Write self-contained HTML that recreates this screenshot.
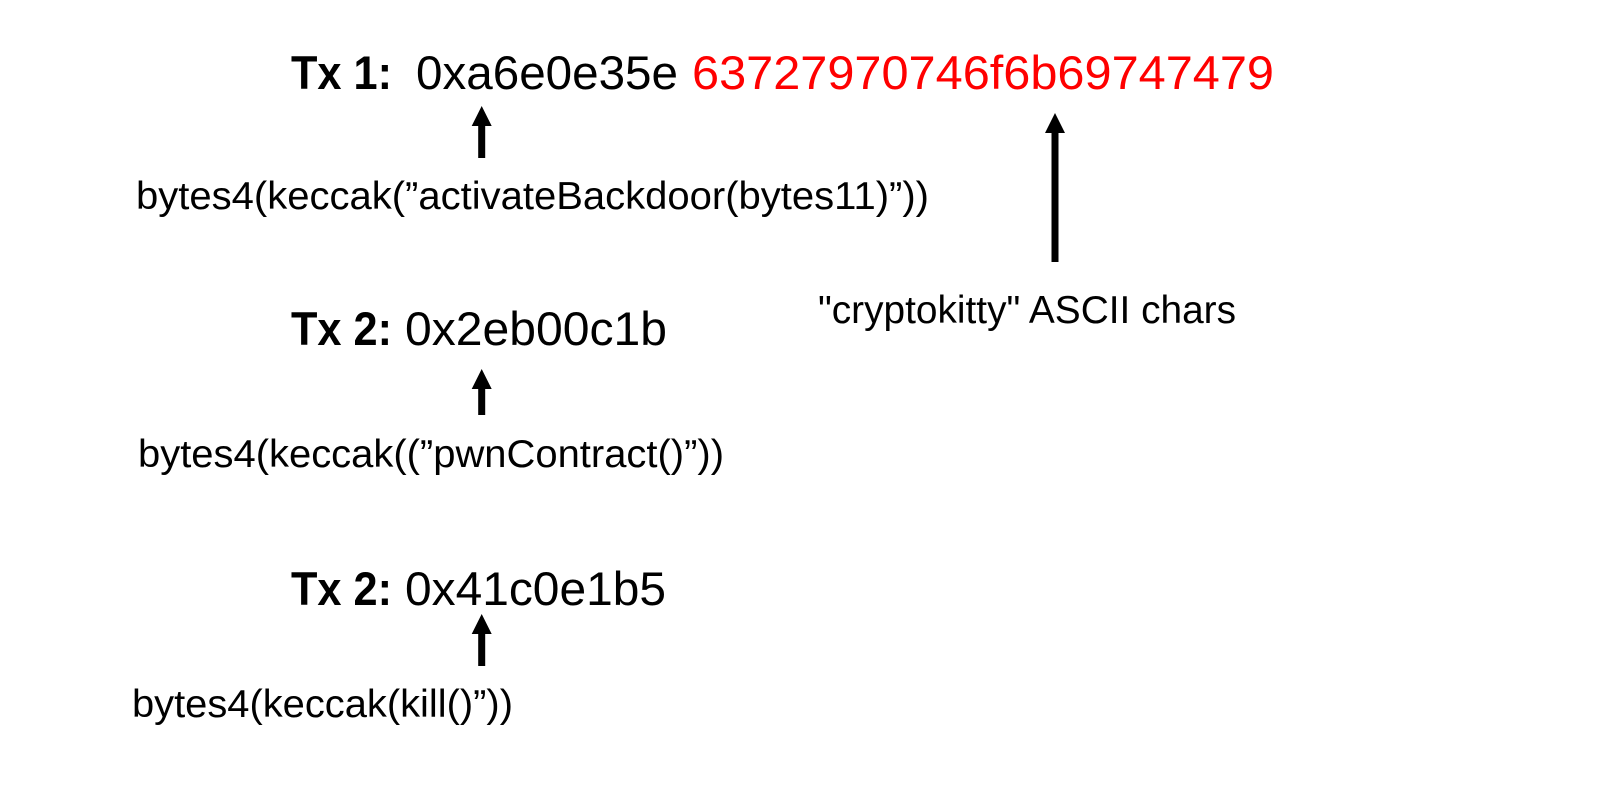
<!DOCTYPE html>
<html lang="en">
<head>
<meta charset="utf-8">
<style>
html,body{margin:0;padding:0;background:#fff;width:1600px;height:806px;overflow:hidden}
svg{display:block}
text{font-family:"Liberation Sans",sans-serif;fill:#000}
.b{font-size:47px;font-weight:bold}
.h{font-size:47px}
.a{font-size:39px}
.c{font-size:39px}
</style>
</head>
<body>
<svg width="1600" height="806" viewBox="0 0 1600 806" xmlns="http://www.w3.org/2000/svg">
<rect width="1600" height="806" fill="#fff"/>

<text class="b" x="291" y="89" textLength="101" lengthAdjust="spacingAndGlyphs">Tx 1:</text>
<text class="h" x="416" y="89" textLength="262" lengthAdjust="spacingAndGlyphs">0xa6e0e35e</text>
<text class="h" x="692" y="89" textLength="582" lengthAdjust="spacingAndGlyphs" style="fill:#ff0000">63727970746f6b69747479</text>

<polygon points="481.7,106 491.7,126 485.2,126 485.2,158 478.2,158 478.2,126 471.7,126" fill="#000"/>
<text class="a" x="136" y="209" textLength="793" lengthAdjust="spacingAndGlyphs">bytes4(keccak(”activateBackdoor(bytes11)”))</text>

<polygon points="1055,113 1065,133 1058.5,133 1058.5,262 1051.5,262 1051.5,133 1045,133" fill="#000"/>
<text class="c" x="818" y="323" textLength="418" lengthAdjust="spacingAndGlyphs">"cryptokitty" ASCII chars</text>

<text class="b" x="291" y="345" textLength="101" lengthAdjust="spacingAndGlyphs">Tx 2:</text>
<text class="h" x="405" y="345" textLength="262" lengthAdjust="spacingAndGlyphs">0x2eb00c1b</text>
<polygon points="481.7,369 491.7,389 485.2,389 485.2,415 478.2,415 478.2,389 471.7,389" fill="#000"/>
<text class="a" x="138" y="467" textLength="586" lengthAdjust="spacingAndGlyphs">bytes4(keccak((”pwnContract()”))</text>

<text class="b" x="291" y="605" textLength="101" lengthAdjust="spacingAndGlyphs">Tx 2:</text>
<text class="h" x="405" y="605" textLength="261" lengthAdjust="spacingAndGlyphs">0x41c0e1b5</text>
<polygon points="481.7,614 491.7,634 485.2,634 485.2,666 478.2,666 478.2,634 471.7,634" fill="#000"/>
<text class="a" x="132" y="717" textLength="381" lengthAdjust="spacingAndGlyphs">bytes4(keccak(kill()”))</text>
</svg>
</body>
</html>
